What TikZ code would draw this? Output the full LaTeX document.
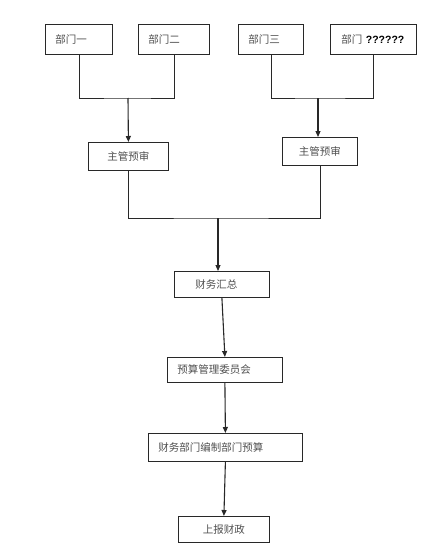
\documentclass[tikz,border=0pt]{standalone}
\usepackage{fontspec}
\usepackage{tikz}
\usepackage{xcolor}
\usetikzlibrary{arrows.meta,positioning}
\newfontfamily\cjk{Noto Sans CJK SC}
\newfontfamily\latinsans{Liberation Sans}
\definecolor{bdtext}{RGB}{80,80,80}
\definecolor{bdline}{RGB}{40,40,40}
\tikzset{
  bdbox/.style={draw=bdline, line width=0.8pt, inner sep=0pt, anchor=north west, align=center, text=bdtext, font=\cjk\fontsize{10.5}{12}\selectfont},
  bdleft/.style={align=left, inner xsep=#1},
  bdline/.style={draw=bdline, line width=0.8pt},
  bdarr/.style={-{Triangle[length=6pt,width=5pt]}, line width=1.1pt, draw=bdline}
}
\begin{document}
\begin{tikzpicture}[x=1pt, y=-1pt]
  \useasboundingbox (0,0) rectangle (432,551);
  \node[bdbox, bdleft=10pt, text width=47pt, minimum height=30pt] (dept1) at (45,24) {部门一};
  \node[bdbox, bdleft=10pt, text width=51pt, minimum height=30pt] (dept2) at (138,24) {部门二};
  \node[bdbox, bdleft=10pt, text width=45pt, minimum height=30pt] (dept3) at (238,24) {部门三};
  \node[bdbox, bdleft=11pt, text width=64pt, minimum height=30pt] (dept4) at (330,24) {部门 {\latinsans\bfseries\color{black}??????}};
  \coordinate (joinA) at (128,98);
  \coordinate (joinB) at (318,98);
  \node[bdbox, minimum width=80pt, minimum height=28pt] (headA) at (88,142) {主管预审};
  \node[bdbox, minimum width=75pt, minimum height=28pt] (headB) at (282,137) {主管预审};
  \coordinate (joinC) at (218,218);
  \node[bdbox, bdleft=21pt, text width=53pt, minimum height=26pt] (sum) at (174,271) {财务汇总};
  \node[bdbox, bdleft=10pt, text width=95pt, minimum height=25pt] (board) at (167,357) {预算管理委员会};
  \node[bdbox, bdleft=10pt, text width=134pt, minimum height=28pt] (draft) at (148,433) {财务部门编制部门预算};
  \node[bdbox, minimum width=91pt, minimum height=26pt] (report) at (178,516) {上报财政};
  \draw[bdline] (dept1.south) |- (joinA) -| (dept2.south);
  \draw[bdline] (dept3.south) |- (joinB) -| (dept4.south);
  \draw[bdarr] (joinA) -- (headA.north);
  \draw[bdarr] (joinB) -- (joinB |- headB.north);
  \draw[bdline] (headA.south) |- (joinC) -| (headB.south);
  \draw[bdarr] (joinC) -- (joinC |- sum.north);
  \draw[bdarr] (sum.south) -- (board.north);
  \draw[bdarr] (board.south) -- (draft.north);
  \draw[bdarr] (draft.south) -- (report.north);
\end{tikzpicture}
\end{document}
